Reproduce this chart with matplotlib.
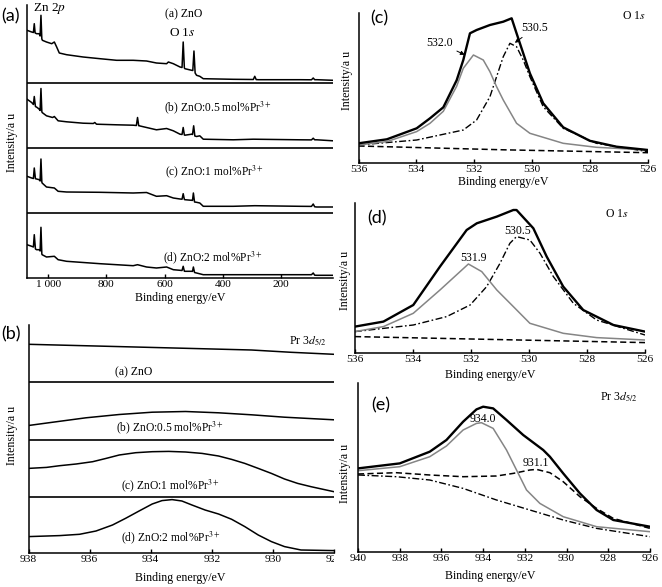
import matplotlib
matplotlib.use('Agg')
import matplotlib.pyplot as plt
from matplotlib.transforms import Bbox, TransformedBbox

plt.rcParams['font.family'] = ['Liberation Serif', 'DejaVu Serif']
plt.rcParams['mathtext.fontset'] = 'stix'

# ---------------- data (energy eV, intensity a.u.) ----------------
# (a) survey spectra, intensity above each trace's own baseline
survey_labels = ['(a) ZnO', '(b) ZnO:0.5 mol%Pr$^{3+}$', '(c) ZnO:1 mol%Pr$^{3+}$', '(d) ZnO:2 mol%Pr$^{3+}$']
survey_a = [(1073, 52.7), (1057, 51), (1051, 50.5), (1048, 59.3), (1045, 50), (1040, 49.3), (1031, 49.3),
            (1028, 47), (1025, 67.7), (1022, 44), (1020, 42.7), (1006, 41), (988, 39.3), (979, 41), (971, 36),
            (962, 30), (937, 28.3), (880, 26), (822, 24.3), (765, 22.7), (708, 22.7), (662, 22), (628, 20),
            (593, 19.3), (587, 21), (570, 19.3), (547, 16), (540, 15.5), (536, 41), (532, 15), (530, 14.3),
            (507, 12.7), (503, 12.5), (499, 32), (495, 10), (490, 7.7), (479, 6.7), (467, 4.3), (364, 3.7),
            (295, 3.5), (290, 6.7), (285, 3.4), (278, 3.3), (135, 3.3), (95, 3.2), (89, 5), (84, 3.3),
            (77, 3.3), (21, 2.7)]
survey_b = [(1073, 49.3), (1057, 46), (1051, 44), (1048, 52), (1044, 42), (1038, 41), (1031, 39.3),
            (1028, 38), (1025, 60), (1022, 37), (1021, 36), (1006, 32.7), (985, 31), (979, 32), (966, 27.7),
            (937, 26.7), (880, 25.3), (845, 25), (840, 26), (834, 24.3), (765, 23.7), (708, 23.3), (697, 23),
            (693, 31), (689, 22.8), (687, 22.7), (662, 21), (628, 18.7), (593, 20), (570, 17.7), (547, 14.3),
            (540, 14), (536, 21), (532, 13.5), (530, 13.3), (507, 14.3), (504, 14), (500, 22.7), (496, 12.5),
            (490, 12), (479, 12.7), (467, 9.3), (364, 8.7), (295, 9.3), (135, 8.7), (95, 8.6), (89, 10.3),
            (84, 8.7), (77, 8.7), (21, 7.7)]
survey_c = [(1073, 36.7), (1057, 35), (1051, 34.5), (1048, 45), (1044, 34.3), (1040, 34), (1031, 33.3),
            (1028, 32), (1025, 54), (1022, 31), (1021, 30), (1006, 26), (979, 25), (966, 21.7), (937, 21),
            (822, 20.7), (708, 20), (662, 20.5), (628, 16.7), (593, 17.3), (570, 15), (547, 14), (540, 13.8),
            (536, 19.3), (532, 13.5), (530, 13.3), (507, 12.7), (504, 12.6), (501, 20), (497, 11), (490, 10.7),
            (479, 10), (467, 6.7), (364, 6.7), (290, 7.3), (135, 6.7), (95, 6.6), (89, 9), (84, 6.2),
            (77, 6), (21, 6)]
survey_d = [(1073, 33.3), (1057, 31.7), (1051, 31), (1048, 43.3), (1044, 29), (1040, 28.3), (1031, 28.3),
            (1028, 27), (1025, 50.7), (1022, 24), (1021, 23.3), (1006, 21), (979, 21.7), (966, 18.3),
            (937, 16.7), (822, 14.3), (708, 12.3), (693, 13.3), (662, 11), (628, 10), (593, 11), (570, 8.3),
            (547, 7.7), (540, 7.5), (536, 11.7), (532, 6.8), (530, 6.7), (507, 6.7), (504, 6.6), (501, 11),
            (497, 5.5), (490, 5), (467, 3.3), (135, 3.3), (95, 3.3), (89, 5), (84, 2.8), (77, 2.7), (21, 2.7)]
survey_offsets = [195, 129.5, 65, 0]
survey_ticks = [1000, 800, 600, 400, 200]
survey_ticklabels = ['1 000', '800', '600', '400', '200']

# (b) Pr 3d5/2 region, intensity above each trace's own baseline
pr_a = [(938.0, 38), (935.03, 35.7), (932.86, 34), (930.70, 32.3), (929.40, 30), (928.0, 28)]
pr_b = [(938.0, 14), (937.2, 17.3), (936.12, 21.7), (935.03, 25), (933.95, 27.3), (932.86, 28),
        (931.78, 26.7), (930.70, 24.7), (929.62, 22.3), (928.0, 19.7)]
pr_c = [(938.0, 28.3), (937.41, 29.3), (936.98, 31), (936.44, 32.7), (935.90, 35), (935.46, 38.3),
        (935.03, 41.7), (934.49, 44), (933.95, 45), (933.41, 45.3), (932.86, 44.7), (932.32, 43.3),
        (931.78, 40.7), (931.35, 37.3), (930.92, 33.3), (930.48, 28.3), (930.05, 23.3), (929.62, 17.7),
        (929.19, 13.3), (928.75, 10), (928.0, 5)]
pr_d = [(938.0, 16.7), (936.98, 17.7), (936.33, 19), (935.79, 22.3), (935.25, 28.3), (934.82, 35),
        (934.38, 42.3), (933.95, 49.3), (933.63, 52.7), (933.30, 53.7), (932.98, 52.3), (932.65, 48.3),
        (932.22, 43.3), (931.78, 39.3), (931.35, 34), (930.92, 26.7), (930.48, 18.3), (930.05, 11.7),
        (929.62, 6.7), (929.08, 3.3), (928.0, 2.7)]
pr_offsets = [171, 113.8, 56.6, 0]
pr_ticks = [938, 936, 934, 932, 930, 928]

# (c) O 1s, ZnO
c_total = [(536, 20), (535.02, 24), (533.99, 35), (533.53, 45), (533.07, 56), (532.61, 83), (532.38, 103.3),
           (532.15, 130), (531.92, 133.3), (531.46, 138.3), (531.0, 141.6), (530.71, 145), (530.54, 130),
           (530.08, 90), (529.62, 60), (528.93, 36), (528.01, 22.5), (527.09, 16.6), (526.0, 13.3)]
c_532 = [(536, 18.3), (535.02, 21.7), (533.99, 31.7), (533.53, 40), (533.07, 52), (532.61, 77), (532.38, 95),
         (532.03, 108.3), (531.69, 103.3), (531.46, 91.6), (531.23, 76.6), (531.0, 63.3), (530.54, 40),
         (530.08, 30), (528.93, 20), (527.78, 16), (526.0, 13.3)]
c_530 = [(536, 18.3), (533.99, 23.3), (532.38, 33.3), (531.92, 43.3), (531.46, 66.6), (531.23, 86.6),
         (531.0, 106.6), (530.77, 120), (530.54, 116.6), (530.31, 103.3), (530.08, 86.6), (529.62, 56.6),
         (528.93, 35), (527.78, 20), (526.0, 11.6)]
c_bg = [(536, 17.3), (531, 13.5), (526, 10.6)]

# (d) O 1s, doped
d_total = [(536, 26.7), (535.02, 31.7), (533.99, 48.3), (533.07, 86.7), (532.15, 123.3), (531.8, 130),
           (531.11, 136.7), (530.54, 143.3), (530.43, 143.3), (529.85, 125), (529.39, 96.7), (528.82, 66.7),
           (528.13, 43.3), (527.09, 28.3), (526, 21.7)]
d_532 = [(536, 21.7), (535.02, 26.7), (533.99, 40), (533.07, 63.3), (532.09, 89.3), (531.63, 81.7),
         (531.11, 63.3), (530.54, 46.7), (529.97, 30), (528.82, 20), (527.67, 15.7), (526, 13.3)]
d_530 = [(536, 21.7), (533.99, 28.3), (532.84, 36.7), (532.03, 48.3), (531.46, 66.7), (531.0, 90),
         (530.66, 110), (530.43, 116.7), (529.97, 113.3), (529.62, 100), (529.16, 76.7), (528.47, 50),
         (527.67, 33.3), (526, 18.3)]
d_bg = [(536, 16.7), (526, 10.7)]

# (e) Pr 3d5/2 fit
e_total = [(940, 83.3), (938, 88.3), (936.56, 100), (935.76, 111.7), (934.96, 130), (934.32, 142.3),
           (934.0, 145), (933.52, 143.3), (932.88, 131.7), (932.08, 116.7), (931.12, 101.7), (930.8, 95),
           (930.16, 78.3), (929.36, 58.3), (928.56, 41.7), (927.76, 31.7), (926.0, 25)]
e_934 = [(940, 81), (938, 85), (936.56, 95), (935.76, 105.7), (934.96, 121.7), (934.32, 128.3), (934.08, 129),
         (933.52, 123.3), (932.88, 101.7), (932.4, 81.7), (931.92, 61.7), (931.28, 48.3), (930.16, 35),
         (928.56, 25), (926.0, 20)]
e_931 = [(940, 77.7), (938.16, 79), (936.56, 76.7), (934.96, 75), (933.36, 75.7), (932.56, 78.3),
         (931.76, 81.7), (931.44, 82.3), (930.8, 79), (930.16, 70), (929.36, 55), (928.56, 43.3),
         (927.76, 33.3), (926.0, 23.3)]
e_bg = [(940, 76.7), (938.16, 75), (936.56, 71.7), (934.96, 63.3), (933.36, 51.7), (931.76, 41.7),
        (930.16, 31.7), (928.56, 23.3), (926.0, 15)]

# ---------------- figure ----------------
W, H = 662, 587
fig = plt.figure(figsize=(W / 100, H / 100), dpi=100)


def box(l, t, r, b):
    return [l / W, 1 - b / H, (r - l) / W, (b - t) / H]


def ftext(x, y, s, **kw):
    kw.setdefault('ha', 'center')
    kw.setdefault('va', 'center')
    fig.text(x / W, 1 - y / H, s, **kw)


def style(ax):
    for s in ['top', 'right']:
        ax.spines[s].set_visible(False)
    for s in ['left', 'bottom']:
        ax.spines[s].set_linewidth(1.1)
    ax.set_yticks([])
    ax.tick_params(axis='x', direction='in', length=3, width=1, labelsize=8.2, pad=1.5)


def xy(pts):
    return [p[0] for p in pts], [p[1] for p in pts]


LW_T = 1.7
GRAY = '#858585'
DD = (0, (5, 1.8, 1.2, 1.8))
DS = (0, (4, 2.2))
XL = 8.6

# ---- panel (a) ----
axA = fig.add_axes(box(27, 5, 333, 278))
style(axA)
axA.set_xlim(1073, 21)
axA.set_ylim(0, 273)
for spec, off in zip([survey_a, survey_b, survey_c, survey_d], survey_offsets):
    e, h = xy(spec)
    axA.plot(e, [v + off for v in h], color='k', lw=1.1)
for off in survey_offsets[:-1]:
    axA.axhline(off, color='k', lw=1.2)
axA.set_xticks(survey_ticks)
axA.set_xticklabels(survey_ticklabels)

ftext(11, 16, '(a)', family='Lato', fontsize=13)
ftext(49, 9, 'Zn 2$p$', fontsize=9.5)
ftext(184, 14, survey_labels[0], fontsize=8.5)
ftext(182, 33, 'O 1$s$', fontsize=9.5)
ftext(218, 108, survey_labels[1], fontsize=8.3)
ftext(214, 172, survey_labels[2], fontsize=8.3)
ftext(213, 258, survey_labels[3], fontsize=8.3)
ftext(180, 298, 'Binding energy/eV', fontsize=XL)
ftext(12, 142, 'Intensity/a u', fontsize=XL, rotation=90)

# ---- panel (b) ----
axB = fig.add_axes(box(28.5, 325, 334, 553.3))
style(axB)
axB.set_xlim(938, 928)
axB.set_ylim(0, 228.3)
for spec, off in zip([pr_a, pr_b, pr_c, pr_d], pr_offsets):
    e, h = xy(spec)
    axB.plot(e, [v + off for v in h], color='k', lw=1.1)
for off in pr_offsets[:-1]:
    axB.axhline(off, color='k', lw=1.2)
axB.set_xticks(pr_ticks)
axB.set_xticklabels([str(t) for t in pr_ticks])
clip = TransformedBbox(Bbox([[0, 0], [334 / W, 1]]), fig.transFigure)
for lbl in axB.get_xticklabels():
    lbl.set_clip_on(True)
    lbl.set_clip_box(clip)

ftext(11, 334, '(b)', family='Lato', fontsize=13)
ftext(308, 341, 'Pr 3$d_{5/2}$', fontsize=8.5)
ftext(134, 372, survey_labels[0], fontsize=8.5)
ftext(170, 428, survey_labels[1], fontsize=8.3)
ftext(170, 486, survey_labels[2], fontsize=8.3)
ftext(171, 538, survey_labels[3], fontsize=8.3)
ftext(180, 578, 'Binding energy/eV', fontsize=XL)
ftext(12, 435, 'Intensity/a u', fontsize=XL, rotation=90)

# ---- panel (c) ----
axC = fig.add_axes(box(358.5, 13, 648, 163.3))
style(axC)
axC.set_xlim(536, 526)
axC.set_ylim(0, 150.3)
axC.plot(*xy(c_bg), color='k', lw=1.1, ls=DS)
axC.plot(*xy(c_530), color='k', lw=1.0, ls=DD)
axC.plot(*xy(c_532), color=GRAY, lw=1.1)
axC.plot(*xy(c_total), color='k', lw=LW_T)
axC.set_xticks([536, 534, 532, 530, 528, 526])
axC.annotate('532.0', xy=(532.33, 108.5), xytext=(533.2, 120.5), fontsize=8.5, ha='center', va='center',
             arrowprops=dict(arrowstyle='-|>', lw=0.7, color='k', mutation_scale=6, shrinkA=1, shrinkB=0))
axC.annotate('530.5', xy=(530.6, 120.5), xytext=(529.9, 135.5), fontsize=8.5, ha='center', va='center',
             arrowprops=dict(arrowstyle='-|>', lw=0.7, color='k', mutation_scale=6, shrinkA=1, shrinkB=0))
ftext(379, 18, '(c)', family='Lato', fontsize=13)
ftext(634, 16, 'O 1$s$', fontsize=8.5)
ftext(347, 80, 'Intensity/a u', fontsize=XL, rotation=90)
ftext(503, 182, 'Binding energy/eV', fontsize=XL)

# ---- panel (d) ----
axD = fig.add_axes(box(355, 203.3, 645, 353.3))
style(axD)
axD.set_xlim(536, 526)
axD.set_ylim(0, 150)
axD.plot(*xy(d_bg), color='k', lw=1.1, ls=DS)
axD.plot(*xy(d_530), color='k', lw=1.0, ls=DD)
axD.plot(*xy(d_532), color=GRAY, lw=1.1)
axD.plot(*xy(d_total), color='k', lw=LW_T)
axD.set_xticks([536, 534, 532, 530, 528, 526])
axD.text(530.38, 122.3, '530.5', fontsize=8.5, ha='center', va='center')
axD.text(531.93, 95.3, '531.9', fontsize=8.5, ha='center', va='center')
ftext(377, 218, '(d)', family='Lato', fontsize=13)
ftext(617, 214, 'O 1$s$', fontsize=8.5)
ftext(345, 280, 'Intensity/a u', fontsize=XL, rotation=90)
ftext(490, 375, 'Binding energy/eV', fontsize=XL)

# ---- panel (e) ----
axE = fig.add_axes(box(358, 383.3, 650, 551.7))
style(axE)
axE.set_xlim(940, 926)
axE.set_ylim(0, 168.4)
axE.plot(*xy(e_bg), color='k', lw=1.0, ls=DD)
axE.plot(*xy(e_931), color='k', lw=1.1, ls=DS)
axE.plot(*xy(e_934), color=GRAY, lw=1.1)
axE.plot(*xy(e_total), color='k', lw=LW_T)
axE.set_xticks([940, 938, 936, 934, 932, 930, 928, 926])
axE.text(934.01, 132.7, '934.0', fontsize=8.5, ha='center', va='center')
axE.text(931.47, 88.7, '931.1', fontsize=8.5, ha='center', va='center')
ftext(381, 405, '(e)', family='Lato', fontsize=13)
ftext(619, 397, 'Pr 3$d_{5/2}$', fontsize=8.5)
ftext(345, 473, 'Intensity/a u', fontsize=XL, rotation=90)
ftext(490, 576, 'Binding energy/eV', fontsize=XL)

fig.savefig('out.png', dpi=100)
